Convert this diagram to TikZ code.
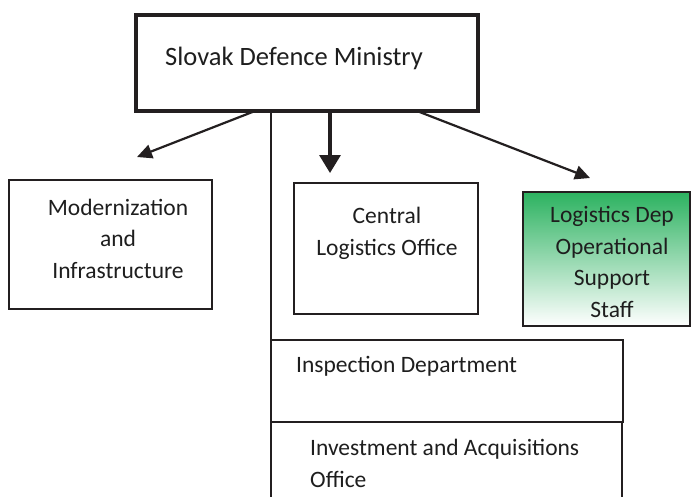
\documentclass[tikz,border=0pt]{standalone}
\usepackage{fontspec}
\setmainfont{Carlito}
\usetikzlibrary{arrows.meta}
\definecolor{lgreen}{RGB}{44,178,96}
\definecolor{ink}{RGB}{35,31,32}
\definecolor{txt}{RGB}{30,30,30}
\begin{document}
\begin{tikzpicture}[x=1pt,y=-1pt,
  box/.style={draw=ink, line width=2pt, inner sep=0pt, outer sep=0pt, anchor=north west},
  lbl/.style={text=txt, inner sep=0pt, font=\fontsize{23.5}{31.5}\selectfont},
  conn/.style={draw=ink, line width=2.2pt},
  tip/.style={-{Triangle[length=15pt,width=14pt]}}
]
\clip (0,0) rectangle (692,496);
\fill[white] (0,0) rectangle (692,496);
% boxes
\node[box, minimum width=203pt, minimum height=129pt] (mod) at (9,180) {};
\node[box, minimum width=184pt, minimum height=131pt] (cent) at (294,183) {};
\node[box, minimum width=167pt, minimum height=134pt, top color=lgreen, bottom color=white] (green) at (523,192) {};
\node[box, minimum width=352pt, minimum height=82pt] (insp) at (271,340) {};
\node[box, minimum width=351pt, minimum height=100pt] (inv) at (271,422) {};
% free ends of arrows
\coordinate (mEnd) at (137,157);
\coordinate (cEnd) at (330,173);
\coordinate (gEnd) at (590,178);
% top box
\node[box, line width=4.5pt, minimum width=342pt, minimum height=96pt, fill=white] (top) at (136,15) {};
% connectors
\draw[conn, line width=2pt] (top.south -| insp.north west) -- (insp.north west);
\draw[conn, tip] ([xshift=119pt]top.south west) -- (mEnd);
\draw[conn, line width=3.2pt, -{Triangle[length=18pt,width=21pt]}] (top.south -| cEnd) -- (cEnd);
\draw[conn, tip] ([xshift=281pt]top.south west) -- (gEnd);
% texts (base anchor = baseline of the last line)
\node[lbl, anchor=base west, font=\fontsize{26.5}{32}\selectfont] (ttop) at (165,65) {Slovak Defence Ministry};
\node[lbl, anchor=base, align=center] (tmod) at (118,278) {Modernization\\and\\Infrastructure};
\node[lbl, anchor=base, align=center] (tcent) at (387,255) {Central\\Logistics Office};
\node[lbl, anchor=base, align=center] (tgreen) at (612,317) {Logistics Dep\\Operational\\Support\\Staff};
\node[lbl, anchor=base west] (tinsp) at (296,372) {Inspection Department};
\node[lbl, anchor=base west, align=left] (tinv) at (310,487) {Investment and Acquisitions\\Office};
\end{tikzpicture}
\end{document}
